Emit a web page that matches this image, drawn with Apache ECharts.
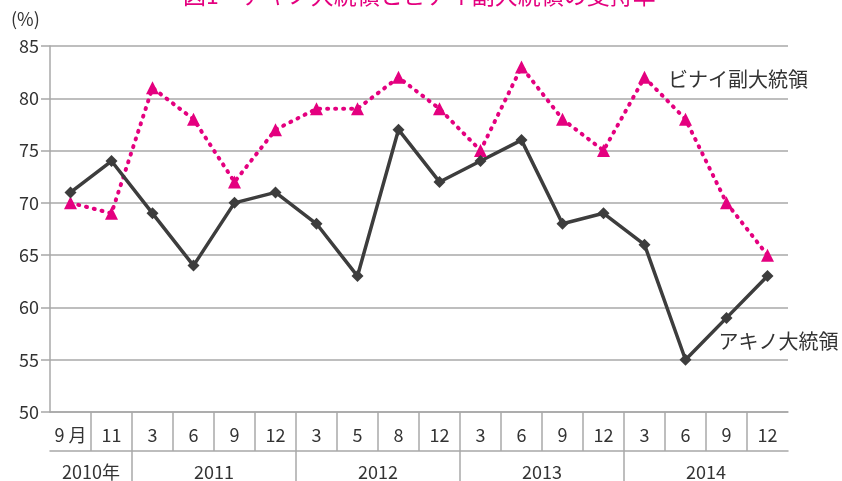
<!DOCTYPE html>
<html>
<head>
<meta charset="utf-8">
<script src="https://cdn.jsdelivr.net/npm/echarts@6/dist/echarts.min.js"></script>
<style>
  html, body { margin: 0; padding: 0; background: #fff; }
  #main { width: 842px; height: 481px; }
</style>
</head>
<body>
<div id="main"></div>
<script>
// 調査月と年
const months = ['9 月', '11', '3', '6', '9', '12', '3', '5', '8', '12', '3', '6', '9', '12', '3', '6', '9', '12'];
const years = ['2010年', '2011', '2012', '2013', '2014'];
const yearSpans = [2, 4, 4, 4, 4];
// 支持率(%)
const aquino = [71, 74, 69, 64, 70, 71, 68, 63, 77, 72, 74, 76, 68, 69, 66, 55, 59, 63];
const binay = [70, 69, 81, 78, 72, 77, 79, 79, 82, 79, 75, 83, 78, 75, 82, 78, 70, 65];

const numFont = "'Liberation Sans Narrow', 'Noto Sans CJK JP', sans-serif";
const jpFont = "'Noto Sans CJK JP', sans-serif";
const gray = '#a8a8a8';

// 年の区切り位置と中央位置
const yearStarts = [];
const yearCenters = [];
let acc = 0;
yearSpans.forEach(s => { yearStarts.push(acc); yearCenters.push(acc + s / 2); acc += s; });

const chart = echarts.init(document.getElementById('main'));
const L = 50, R = 54;

chart.setOption({
  animation: false,
  title: [
    {
      text: '図1　アキノ大統領とビナイ副大統領の支持率',
      left: 178, top: -21,
      textStyle: { color: '#e4007f', fontSize: 23, fontWeight: 'normal', fontFamily: jpFont }
    },
    {
      text: '(%)', left: 6, top: 5,
      textStyle: { color: '#333', fontSize: 18, fontWeight: 'normal', fontFamily: numFont }
    }
  ],
  grid: [
    { left: L, right: R, top: 46, height: 366 },
    { left: L, right: R, top: 412, height: 39 },
    { left: L, right: R, top: 451, height: 30 }
  ],
  xAxis: [
    {
      gridIndex: 0, type: 'category', data: months, boundaryGap: true,
      axisLine: { lineStyle: { color: gray, width: 1.5 } },
      axisTick: { show: false }, axisLabel: { show: false }
    },
    {
      gridIndex: 1, type: 'category', data: months, position: 'bottom',
      axisLine: { lineStyle: { color: gray, width: 1.5 } },
      axisTick: { show: false },
      axisLabel: {
        inside: true, margin: 16, verticalAlign: 'middle', interval: 0,
        color: '#333', fontSize: 18, fontFamily: numFont
      },
      splitLine: {
        show: true, interval: 0, showMinLine: false, showMaxLine: false,
        lineStyle: { color: gray, width: 1.5 }
      }
    },
    {
      gridIndex: 2, type: 'category', data: months,
      axisLine: { show: false }, axisTick: { show: false }, axisLabel: { show: false },
      splitLine: {
        show: true, showMaxLine: false,
        interval: (i) => yearStarts.indexOf(i) > 0,
        lineStyle: { color: gray, width: 1.5 }
      }
    },
    {
      gridIndex: 2, type: 'value', min: 0, max: months.length, interval: 1, position: 'bottom',
      axisLine: { show: false }, axisTick: { show: false }, splitLine: { show: false },
      axisLabel: {
        inside: true, margin: 9, verticalAlign: 'middle',
        showMinLabel: true, showMaxLabel: true,
        color: '#333', fontSize: 18, fontFamily: numFont,
        formatter: (v) => {
          const k = yearCenters.indexOf(v);
          return k >= 0 ? years[k] : '';
        }
      }
    }
  ],
  yAxis: [
    {
      gridIndex: 0, type: 'value', min: 50, max: 85, interval: 5,
      axisLine: { show: true, lineStyle: { color: gray, width: 1.5 } },
      axisTick: { show: true, length: 9, lineStyle: { color: gray, width: 1.5 } },
      axisLabel: { margin: 11, color: '#333', fontSize: 18, fontFamily: numFont },
      splitLine: { lineStyle: { color: gray, width: 1.5 } }
    },
    { gridIndex: 1, type: 'value', show: false },
    { gridIndex: 2, type: 'value', show: false }
  ],
  series: [
    {
      name: 'ビナイ副大統領', type: 'line', data: binay,
      xAxisIndex: 0, yAxisIndex: 0,
      symbol: 'triangle', symbolSize: 13,
      itemStyle: { color: '#e4007f' },
      lineStyle: { color: '#e4007f', width: 4, type: [1, 7], cap: 'round' },
      label: {
        show: true, position: 'right', offset: [12, 2],
        color: '#333', fontSize: 20, fontFamily: jpFont,
        formatter: (p) => p.dataIndex === 14 ? p.seriesName : ''
      }
    },
    {
      name: 'アキノ大統領', type: 'line', data: aquino,
      xAxisIndex: 0, yAxisIndex: 0,
      symbol: 'diamond', symbolSize: 12,
      itemStyle: { color: '#3d3d3d' },
      lineStyle: { color: '#3d3d3d', width: 3.5 },
      label: {
        show: true, position: 'right', offset: [-19, 24],
        color: '#333', fontSize: 20, fontFamily: jpFont,
        formatter: (p) => p.dataIndex === 16 ? p.seriesName : ''
      }
    }
  ]
});
window.addEventListener('resize', () => chart.resize());
</script>
</body>
</html>
